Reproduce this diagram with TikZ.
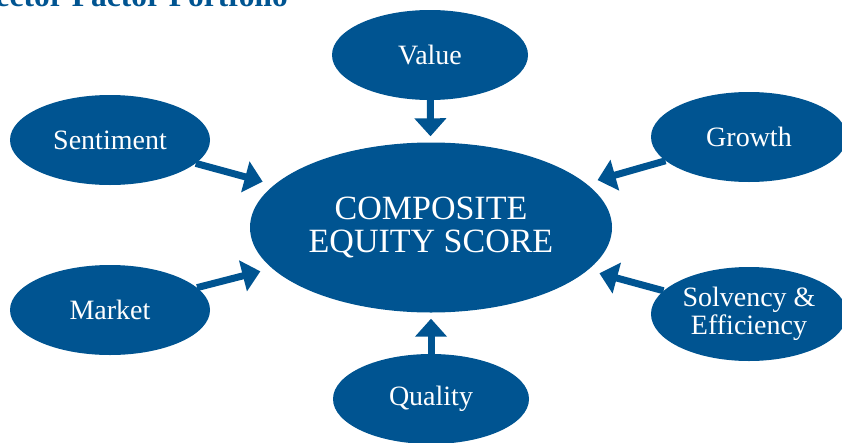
\documentclass[tikz,border=0pt]{standalone}
\usepackage{fontspec}
\setmainfont{Liberation Serif}
\usetikzlibrary{shapes.geometric,arrows.meta}
\definecolor{navy}{RGB}{0,84,145}
\begin{document}
\begin{tikzpicture}[x=1pt,y=-1pt,
  bubble/.style={ellipse, fill=navy, text=white, inner sep=0pt, align=center,
    minimum width=196pt, minimum height=90pt, font=\fontsize{28}{28}\selectfont},
  feeder/.style={draw=navy, line width=7pt, -{Triangle[width=31pt,length=18pt]}, shorten >=#1},
  feeder/.default=6pt]
\useasboundingbox (0,0) rectangle (842,442);
\clip (0,0) rectangle (842,442);
% heading, cut off by the top edge
\node[anchor=base east, text=navy, inner sep=0pt,
  font=\bfseries\fontsize{31.5}{32}\selectfont] (title) at (288,6) {ector Factor Portfolio};
% central score
\node[bubble, minimum width=362pt, minimum height=170pt,
  font=\fontsize{34}{33}\selectfont] (comp) at (431,227.5) {COMPOSITE\\EQUITY SCORE};
% factor groups
\node[bubble] (value) at (430,55) {Value};
\node[bubble, minimum width=200pt] (sent) at (110,140) {Sentiment};
\node[bubble] (growth) at (749,137) {Growth};
\node[bubble, minimum width=200pt] (market) at (110,310) {Market};
\node[bubble, minimum height=94pt] (solv) at (749,314) {Solvency \&\\Efficiency};
\node[bubble] (quality) at (431,399) {Quality};
% arrows into the score
\draw[feeder] (value) -- (comp);
\draw[feeder] (quality) -- (comp);
\draw[feeder=12pt] (sent) -- (comp);
\draw[feeder=12pt] (market) -- (comp);
\draw[feeder=12pt] (growth) -- (comp);
\draw[feeder=12pt] (solv) -- (comp);
\end{tikzpicture}
\end{document}
